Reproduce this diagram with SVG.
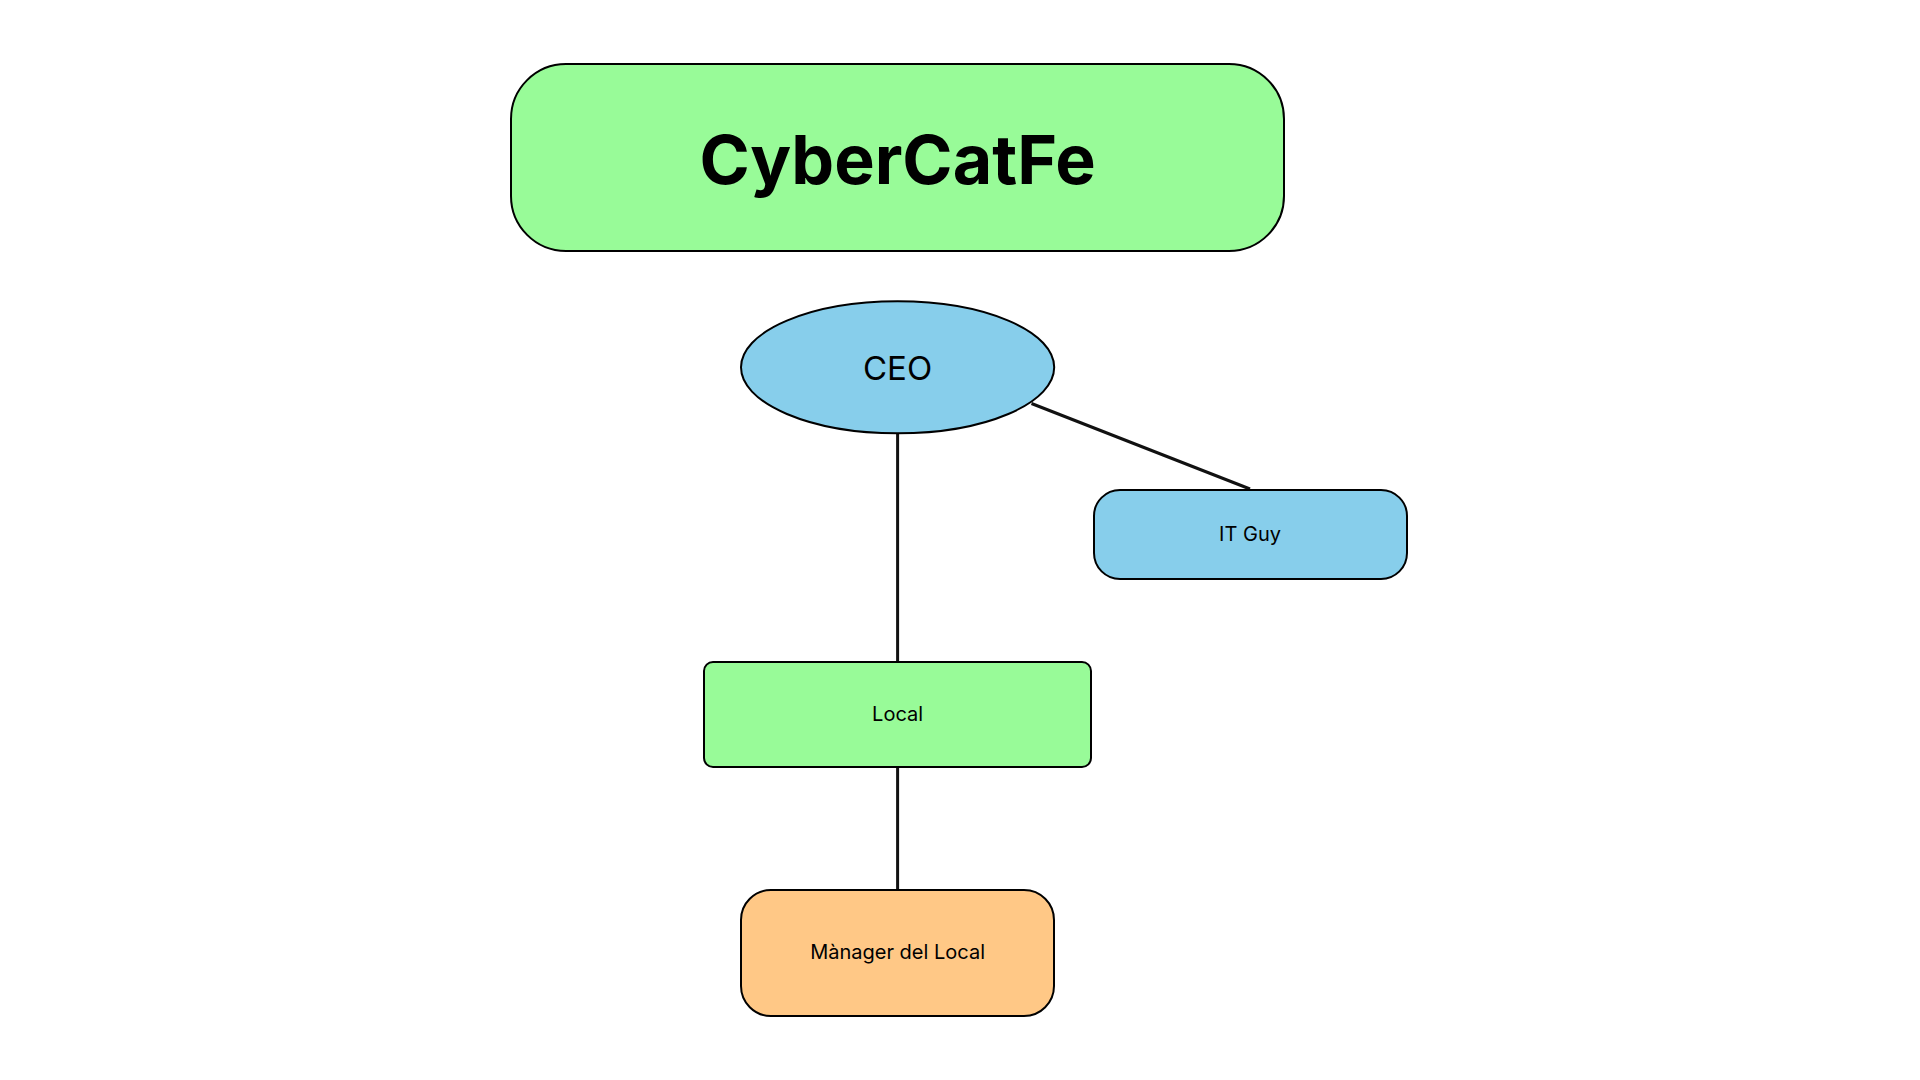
<svg xmlns="http://www.w3.org/2000/svg" width="1920" height="1080" viewBox="0 0 1920 1080">
<style>
.box{stroke:#000;stroke-width:2}
.green{fill:#98FB98}
.blue{fill:#87CEEB}
.orange{fill:#FFC886}
.lbl{font-family:Inter,"Liberation Sans",sans-serif;fill:#000;text-anchor:middle}
.edge{stroke:#111;stroke-width:3;fill:none}
</style>
<rect width="1920" height="1080" fill="#fff"/>
<g id="connectors">
<line class="edge" x1="897.6" y1="434" x2="897.6" y2="662"/>
<line class="edge" x1="897.6" y1="767" x2="897.6" y2="890"/>
<line class="edge" x1="1031.5" y1="403.5" x2="1250" y2="489"/>
</g>
<g id="title">
<rect class="box green" x="511" y="64" width="773" height="187" rx="55" ry="55"/>
<text class="lbl" x="897.6" y="184" font-size="68" font-weight="700">CyberCatFe</text>
</g>
<g id="ceo">
<ellipse class="box blue" cx="897.6" cy="367.3" rx="156.6" ry="66"/>
<text class="lbl" x="897.6" y="379.5" font-size="33">CEO</text>
</g>
<g id="itguy">
<rect class="box blue" x="1094" y="490" width="313" height="89" rx="26" ry="26"/>
<text class="lbl" x="1250" y="541" font-size="20">IT Guy</text>
</g>
<g id="local">
<rect class="box green" x="704" y="662" width="387" height="105" rx="9" ry="9"/>
<text class="lbl" x="897.6" y="721" font-size="20">Local</text>
</g>
<g id="manager">
<rect class="box orange" x="741" y="890" width="313" height="126" rx="30" ry="30"/>
<text class="lbl" x="897.6" y="959" font-size="20">Mànager del Local</text>
</g>
</svg>
